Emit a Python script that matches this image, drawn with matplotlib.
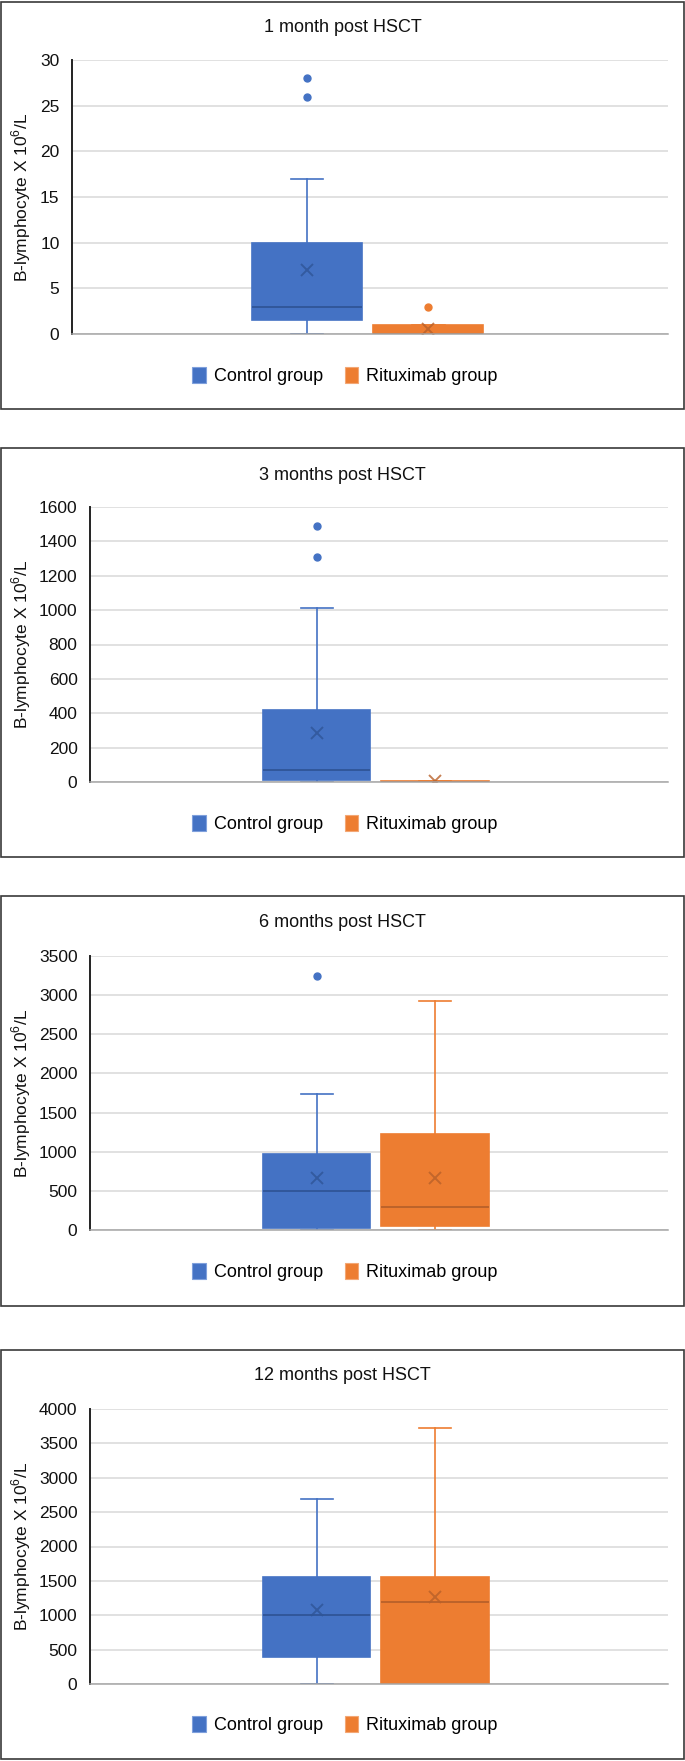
# -*- coding: utf-8 -*-
"""
B-lymphocyte counts after HSCT, control vs rituximab group (Excel style box plots).
"""

import matplotlib
matplotlib.use('Agg')
import matplotlib.pyplot as plt
from matplotlib.patches import Patch, Rectangle


# panel titles and y axis ranges
TITLES = ['1 month post HSCT', '3 months post HSCT',
          '6 months post HSCT', '12 months post HSCT']
YMAX = [30, 1600, 3500, 4000]
YSTEP = [5, 200, 500, 500]

# control group box statistics
CTRL_LO = [0, 0, 0, 0]
CTRL_Q1 = [1.5, 14, 30, 400]
CTRL_MED = [3, 70, 500, 1000]
CTRL_Q3 = [10, 420, 970, 1550]
CTRL_HI = [17, 1010, 1740, 2690]
CTRL_MEAN = [7, 287, 668, 1078]
CTRL_OUT = [[26, 28], [1310, 1490], [3245], []]

# rituximab group box statistics
RITU_LO = [0, 0, 0, 0]
RITU_Q1 = [0, 0, 50, 0]
RITU_MED = [0, 0, 300, 1200]
RITU_Q3 = [1, 5, 1225, 1550]
RITU_HI = [1, 5, 2920, 3730]
RITU_MEAN = [0.5, 3, 668, 1270]
RITU_OUT = [[3], [], [], []]

GROUPS = ['Control group', 'Rituximab group']
YLABEL = r'B-lymphocyte X 10$^{6}$/L'

# colours
BLUE, BLUE_DARK = '#4472C4', '#2F5597'
ORANGE, ORANGE_DARK = '#ED7D31', '#B8612A'

# figure geometry in pixels
W, H = 685, 1761
# axes boxes: left, right, top, bottom
AX_PIX = [(72, 668, 60, 334), (90, 668, 507, 782),
          (90, 668, 956, 1230), (90, 668, 1409, 1684)]
# panel frames: top, bottom
FRAME_PIX = [(2, 409), (448, 857), (896, 1306), (1350, 1759)]
TITLE_Y = [27, 475, 923, 1376]
LEGEND_Y = [376, 824, 1272, 1725]

plt.rcParams['font.family'] = ['Liberation Sans', 'DejaVu Sans']
plt.rcParams['mathtext.fontset'] = 'custom'
plt.rcParams['mathtext.rm'] = 'Liberation Sans'


def stats(lo, q1, med, q3, hi, mean, out):
    # one bxp stats dict
    return dict(whislo=lo, q1=q1, med=med, q3=q3, whishi=hi,
                mean=mean, fliers=out)


def draw_box(ax, st, pos, color, dark):
    ax.bxp([st], positions=[pos], widths=0.91, capwidths=0.27,
           patch_artist=True, showmeans=True, manage_ticks=False,
           boxprops=dict(facecolor=color, edgecolor=color, linewidth=1.2),
           medianprops=dict(color=dark, linewidth=1.3),
           whiskerprops=dict(color=color, linewidth=1.2),
           capprops=dict(color=color, linewidth=1.2),
           meanprops=dict(marker='x', markersize=9, markeredgewidth=1.4,
                          markeredgecolor=dark, alpha=0.8),
           flierprops=dict(marker='o', markersize=5, markerfacecolor=color,
                           markeredgecolor=color))


fig = plt.figure(figsize=(W / 100., H / 100.), dpi=100)

for iii in range(4):
    # panel frame
    top, bot = FRAME_PIX[iii]
    fig.patches.append(Rectangle((1. / W, 1. - bot / H), 683. / W,
                                 (bot - top) / H, transform=fig.transFigure,
                                 fill=False, edgecolor='#3a3a3a',
                                 linewidth=1.2))
    # axes
    left, right, atop, abot = AX_PIX[iii]
    ax = fig.add_axes([left / W, 1. - abot / H, (right - left) / W,
                       (abot - atop) / H])
    draw_box(ax, stats(CTRL_LO[iii], CTRL_Q1[iii], CTRL_MED[iii],
                       CTRL_Q3[iii], CTRL_HI[iii], CTRL_MEAN[iii],
                       CTRL_OUT[iii]), 1, BLUE, BLUE_DARK)
    draw_box(ax, stats(RITU_LO[iii], RITU_Q1[iii], RITU_MED[iii],
                       RITU_Q3[iii], RITU_HI[iii], RITU_MEAN[iii],
                       RITU_OUT[iii]), 2, ORANGE, ORANGE_DARK)
    # scales
    if iii == 0:
        ax.set_xlim(-0.94, 3.98)
    else:
        ax.set_xlim(-0.92, 3.975)
    ax.set_ylim(0, YMAX[iii])
    ax.set_yticks(range(0, YMAX[iii] + 1, YSTEP[iii]))
    ax.set_xticks([])
    ax.tick_params(axis='y', length=0, pad=9, labelsize=12.5,
                   labelcolor='#111111')
    # grid and spines
    ax.yaxis.grid(True, color='#d9d9d9', linewidth=1.1)
    ax.set_axisbelow(True)
    for side in ['top', 'right']:
        ax.spines[side].set_visible(False)
    ax.spines['left'].set_color('#222222')
    ax.spines['left'].set_linewidth(1.4)
    ax.spines['bottom'].set_color('#a6a6a6')
    ax.spines['bottom'].set_linewidth(1.1)
    ax.set_ylabel(YLABEL, fontsize=12.5, color='#111111', va='center')
    ax.yaxis.set_label_coords((21. - left) / (right - left), 0.5)
    # title
    fig.text(0.5, 1. - TITLE_Y[iii] / H, TITLES[iii], ha='center',
             va='center', fontsize=13, color='#111111')
    # legend
    handles = [Patch(facecolor=BLUE, edgecolor='#7fa0dc', linewidth=0.8),
               Patch(facecolor=ORANGE, edgecolor='#f3a775', linewidth=0.8)]
    fig.legend(handles, GROUPS, loc='center',
               bbox_to_anchor=(345. / W, 1. - LEGEND_Y[iii] / H),
               ncol=2, frameon=False, fontsize=13, handlelength=0.75,
               handleheight=1.0, handletextpad=0.45, columnspacing=1.2)

fig.savefig('out.png', dpi=100)
